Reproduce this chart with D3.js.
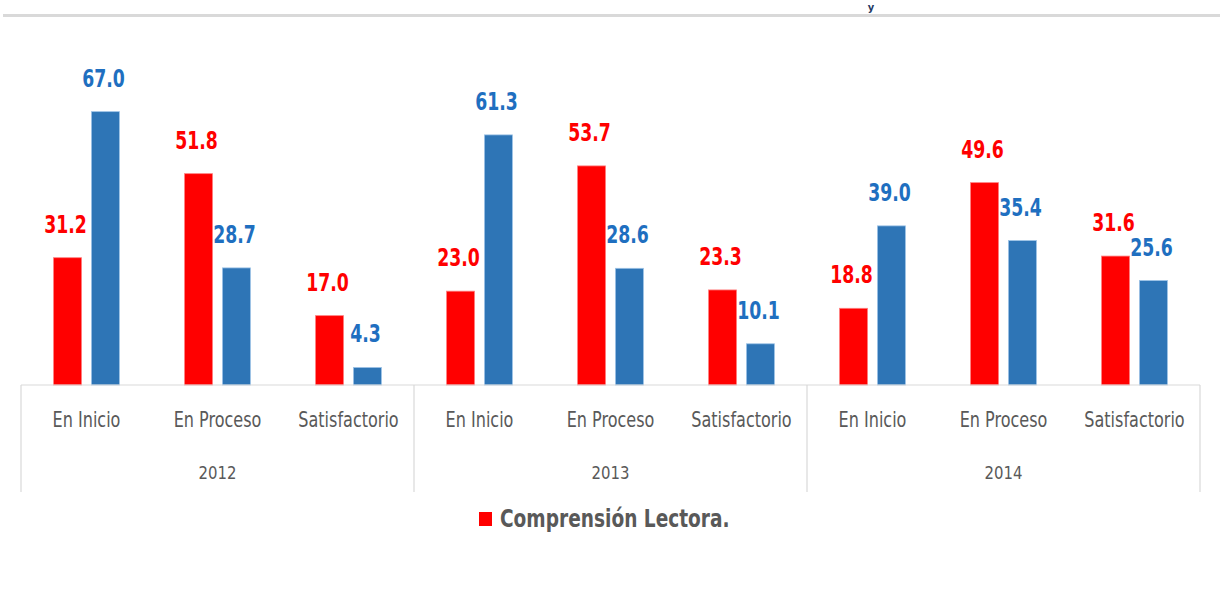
<!DOCTYPE html>
<html>
<head>
<meta charset="utf-8">
<script src="https://cdn.jsdelivr.net/npm/d3@7"></script>
<style>
  body { margin: 0; background: #fff; }
  svg text { font-family: "Liberation Sans Narrow", "DejaVu Sans Condensed", "Liberation Sans", sans-serif; }
</style>
</head>
<body>
<div id="chart"></div>
<script>
var years = ["2012", "2013", "2014"];
var levels = ["En Inicio", "En Proceso", "Satisfactorio"];
var redValues = [31.2, 51.8, 17.0, 23.0, 53.7, 23.3, 18.8, 49.6, 31.6];
var blueValues = [67.0, 28.7, 4.3, 61.3, 28.6, 10.1, 39.0, 35.4, 25.6];
var legendLabel = "Comprensión Lectora.";

var svgWidth = 1220;
var svgHeight = 589;

var svg = d3.select("#chart")
    .append("svg")
    .attr("width", svgWidth)
    .attr("height", svgHeight);

// narrow the condensed font a bit more, Calibri-like
function squeeze(sx) {
    return function(x, y) { return "translate(" + x + "," + y + ") scale(" + sx + ",1)"; };
}
var sqValue = squeeze(0.8), sqCat = squeeze(0.85), sqYear = squeeze(0.92), sqLegend = squeeze(0.86);

// grey rule across the top
svg.append("rect")
    .attr("x", 3).attr("y", 14)
    .attr("width", 1217).attr("height", 3)
    .attr("fill", "#d9d9d9");
svg.append("text")
    .attr("x", 871).attr("y", 11)
    .attr("text-anchor", "middle")
    .attr("font-size", 11)
    .attr("font-weight", "bold")
    .attr("fill", "#1f3864")
    .text("y");

var left = 21, right = 1200, baseY = 385;

var cats = [];
years.forEach(function(y, yi) {
    levels.forEach(function(l, li) {
        cats.push({ year: y, level: l, red: redValues[yi * 3 + li], blue: blueValues[yi * 3 + li] });
    });
});

var x0 = d3.scaleBand()
    .domain(d3.range(cats.length))
    .range([left, right]);

var x1 = d3.scaleBand()
    .domain(["red", "blue"])
    .range([0, x0.bandwidth()])
    .paddingInner(0.26)
    .paddingOuter(0.86);

var y = d3.scaleLinear()
    .domain([0, 70])
    .range([baseY, baseY - 70 * 4.08]);

var colors = { red: "#ff0000", blue: "#2e75b6" };
var labelColors = { red: "#ff0000", blue: "#1f6fc0" };

var groups = svg.append("g").selectAll("g")
    .data(cats)
    .enter()
    .append("g")
    .attr("transform", function(d, i) { return "translate(" + x0(i) + ",0)"; });

["red", "blue"].forEach(function(s) {
    groups.append("rect")
        .attr("x", x1(s))
        .attr("y", function(d) { return y(d[s]); })
        .attr("width", x1.bandwidth())
        .attr("height", function(d) { return baseY - y(d[s]); })
        .attr("fill", colors[s])
        .attr("stroke", s == "blue" ? "#9dc3e6" : "#ff8080")
        .attr("stroke-width", 0.8);

    groups.append("text")
        .attr("transform", function(d) { return sqValue(x1(s) + x1.bandwidth() / 2 - 2, y(d[s]) - 25); })
        .attr("text-anchor", "middle")
        .attr("font-size", 24)
        .attr("font-weight", "bold")
        .attr("fill", labelColors[s])
        .text(function(d) { return d[s].toFixed(1); });
});

// axis lines
var axis = svg.append("g").attr("stroke", "#d9d9d9").attr("stroke-width", 1.2);
axis.append("line")
    .attr("x1", left).attr("x2", right)
    .attr("y1", baseY).attr("y2", baseY);
[0, 3, 6, 9].forEach(function(i) {
    var xx = i < 9 ? x0(i) : right;
    axis.append("line")
        .attr("x1", xx).attr("x2", xx)
        .attr("y1", baseY).attr("y2", 492);
});

// category labels
svg.append("g").selectAll("text")
    .data(cats)
    .enter()
    .append("text")
    .attr("transform", function(d, i) { return sqCat(x0(i) + x0.bandwidth() / 2, 427); })
    .attr("text-anchor", "middle")
    .attr("font-size", 21)
    .attr("fill", "#595959")
    .text(function(d) { return d.level; });

// year labels
svg.append("g").selectAll("text")
    .data(years)
    .enter()
    .append("text")
    .attr("transform", function(d, i) { return sqYear((x0(i * 3) + (i < 2 ? x0(i * 3 + 3) : right)) / 2, 479); })
    .attr("text-anchor", "middle")
    .attr("font-size", 18)
    .attr("fill", "#595959")
    .text(function(d) { return d; });

// legend
var legend = svg.append("g").attr("transform", "translate(479,512)");
legend.append("rect")
    .attr("width", 13).attr("height", 14)
    .attr("fill", colors.red);
legend.append("text")
    .attr("transform", sqLegend(21, 15))
    .attr("font-size", 24)
    .attr("font-weight", "bold")
    .attr("fill", "#595959")
    .text(legendLabel);
</script>
</body>
</html>
